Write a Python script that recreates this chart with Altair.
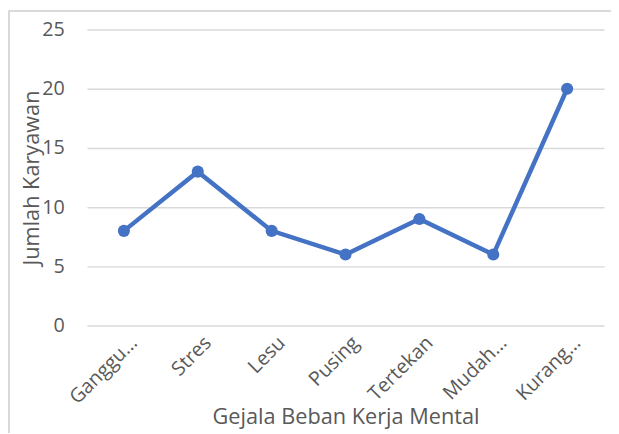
import altair as alt
import pandas as pd

categories = ["Ganggu…", "Stres", "Lesu", "Pusing", "Tertekan", "Mudah…", "Kurang…"]
values = [8, 13, 8, 6, 9, 6, 20]

df = pd.DataFrame({"Gejala": categories, "Jumlah": values})

FONT = "Open Sans"
GRAY = "#595959"
BLUE = "#4472C4"
NB = "\u00a0" * 6

x_enc = alt.X(
    "Gejala:N",
    sort=categories,
    scale=alt.Scale(paddingInner=0, paddingOuter=0),
    axis=alt.Axis(
        title="Gejala Beban Kerja Mental",
        labelExpr="indexof(datum.label, '…') >= 0 ? datum.label : datum.label + '" + NB + "'",
        labelAngle=315,
        labelAlign="right",
        labelBaseline="middle",
        labelPadding=14,
        labelOffset=10,
        labelFontSize=20,
        labelColor=GRAY,
        labelFont=FONT,
        labelOverlap=False,
        titleFont=FONT,
        titleFontSize=22,
        titleFontWeight="normal",
        titleColor=GRAY,
        titleY=99,
        titleBaseline="alphabetic",
        domain=False,
        ticks=False,
        grid=False,
    ),
)
y_enc = alt.Y(
    "Jumlah:Q",
    scale=alt.Scale(domain=[0, 25], nice=False),
    axis=alt.Axis(
        title="Jumlah Karyawan",
        values=[0, 5, 10, 15, 20, 25],
        labelFontSize=20,
        labelColor=GRAY,
        labelFont=FONT,
        labelPadding=23,
        titleFont=FONT,
        titleFontSize=22,
        titleFontWeight="normal",
        titleColor=GRAY,
        titleX=-49,
        titleY=150,
        titleAlign="center",
        titleBaseline="alphabetic",
        titleAngle=270,
        domain=False,
        ticks=False,
        grid=True,
        gridColor="#D9D9D9",
        gridWidth=1.5,
    ),
)

base = alt.Chart(df)
line = base.mark_line(color=BLUE, strokeWidth=4.5).encode(x=x_enc, y=y_enc)
pts = base.mark_circle(color=BLUE, size=150, opacity=1).encode(x=x_enc, y=y_enc)

border_left = alt.Chart(df).mark_rule(color="#D9D9D9", strokeWidth=1.5).encode(
    x=alt.value(-79), y=alt.value(-19), y2=alt.value(420)
)
border_top = alt.Chart(df).mark_rule(color="#D9D9D9", strokeWidth=1.5).encode(
    x=alt.value(-79), x2=alt.value(540), y=alt.value(-19)
)

chart = (
    alt.layer(border_left, border_top, line, pts)
    .properties(
        width=524,
        height=300,
        background="white",
        autosize=alt.AutoSizeParams(type="none"),
        padding={"left": 80, "top": 19, "right": 7, "bottom": 106},
    )
    .configure_view(strokeWidth=0, stroke="transparent")
)

chart.save("out.html", embed_options={"renderer": "svg", "actions": False})
